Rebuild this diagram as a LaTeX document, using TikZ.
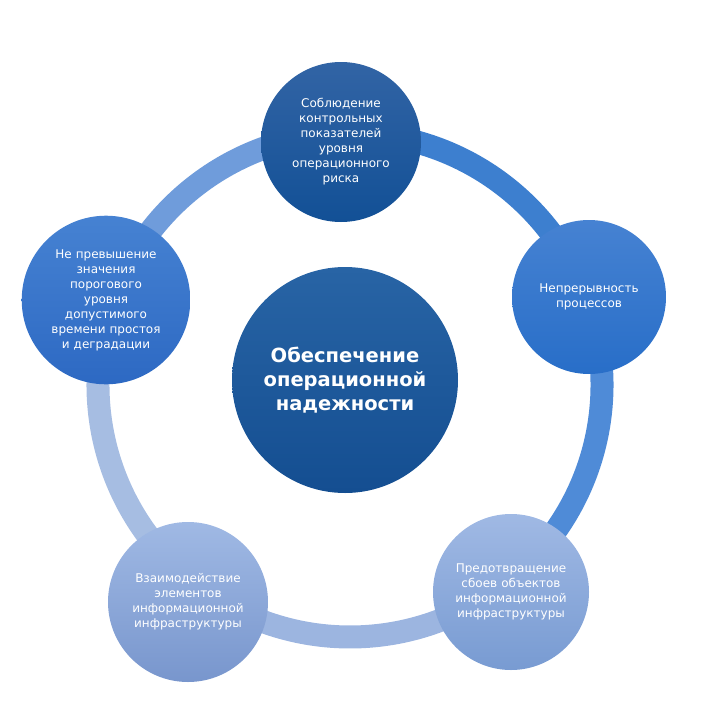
\documentclass[tikz,border=0pt]{standalone}
\usepackage{fontspec}
\setmainfont{DejaVu Sans}
\definecolor{ringA}{HTML}{3D7FCF}
\definecolor{ringB}{HTML}{4F8BD7}
\definecolor{ringC}{HTML}{9CB5E0}
\definecolor{ringD}{HTML}{A6BDE2}
\definecolor{ringE}{HTML}{6F9CDB}
\tikzset{
  sat/.style={circle, minimum size=#1, align=center, text=white,
    font=\fontsize{12}{15}\selectfont, text width=135pt, inner sep=0pt},
  ringseg/.style={line width=23pt, draw=#1},
}
\begin{document}
\begin{tikzpicture}[x=1pt,y=-1pt]
  \useasboundingbox (0,0) rectangle (710,720);
  \coordinate (c) at (350,385);
  % ring
  \draw[ringseg=ringA] (c) ++(-92:252) arc (-92:-20:252);
  \draw[ringseg=ringB] (c) ++(-20:252) arc (-20:52:252);
  \draw[ringseg=ringC] (c) ++(52:252) arc (52:127:252);
  \draw[ringseg=ringD] (c) ++(127:252) arc (127:199:252);
  \draw[ringseg=ringE] (c) ++(199:252) arc (199:268:252);
  % centre
  \node[sat=226pt, top color={rgb,255:red,40;green,100;blue,165}, bottom color={rgb,255:red,20;green,78;blue,145},
    font=\bfseries\fontsize{19.5}{24}\selectfont, text width=210pt] (main) at (345,380)
    {Обеспечение\\операционной\\надежности};
  % satellites
  \node[sat=156pt, top color={rgb,255:red,50;green,100;blue,165}, bottom color={rgb,255:red,18;green,80;blue,150}] (risk) at (341,142)
    {Соблюдение\\контрольных\\показателей\\уровня\\операционного\\риска\\[34pt]};
  \node[sat=154pt, top color={rgb,255:red,70;green,130;blue,210}, bottom color={rgb,255:red,40;green,110;blue,200}] (cont) at (589,297)
    {Непрерывность\\процессов};
  \node[sat=156pt, top color={rgb,255:red,160;green,185;blue,228}, bottom color={rgb,255:red,120;green,155;blue,210}] (prev) at (511,592)
    {Предотвращение\\сбоев объектов\\информационной\\инфраструктуры};
  \node[sat=160pt, top color={rgb,255:red,160;green,185;blue,228}, bottom color={rgb,255:red,120;green,150;blue,205}] (inter) at (188,602)
    {Взаимодействие\\элементов\\информационной\\инфраструктуры};
  \node[sat=160pt, top color={rgb,255:red,70;green,130;blue,210}, bottom color={rgb,255:red,45;green,105;blue,195}] (idle) at (106,300)
    {Не превышение\\значения\\порогового\\уровня\\допустимого\\времени простоя\\и деградации\\[10pt]};
\end{tikzpicture}
\end{document}
